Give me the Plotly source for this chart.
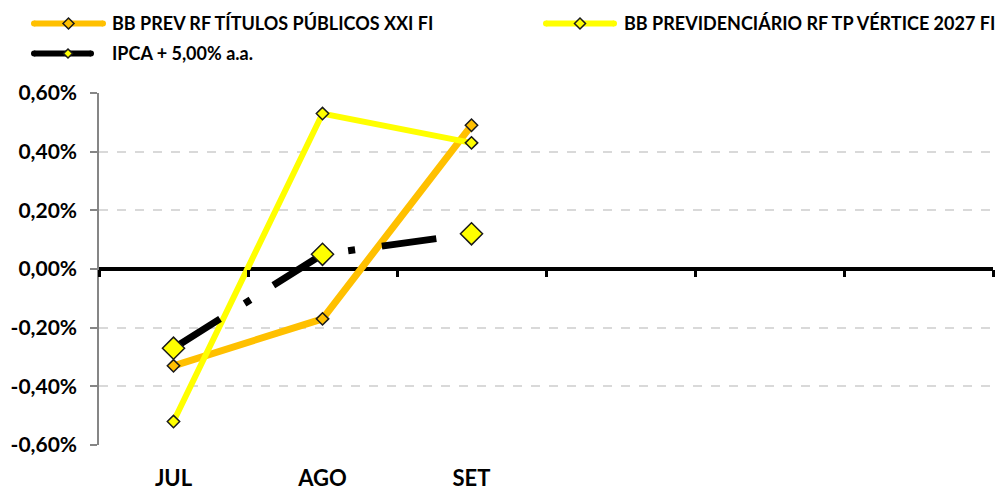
import plotly.graph_objects as go

# ---- data ----
categories = ["JUL", "AGO", "SET", "OUT", "NOV", "DEZ"]
months = ["JUL", "AGO", "SET"]
fund_xxi = [-0.33, -0.17, 0.49]          # BB PREV RF TÍTULOS PÚBLICOS XXI FI
fund_vertice = [-0.52, 0.53, 0.43]       # BB PREVIDENCIÁRIO RF TP VÉRTICE 2027 FI
ipca_meta = [-0.27, 0.05, 0.12]          # IPCA + 5,00% a.a.
y_ticks = [-0.6, -0.4, -0.2, 0.0, 0.2, 0.4, 0.6]
y_ticktext = ["-0,60%", "-0,40%", "-0,20%", "0,00%", "0,20%", "0,40%", "0,60%"]
names = ["BB PREV RF TÍTULOS PÚBLICOS XXI FI",
         "BB PREVIDENCIÁRIO RF TP VÉRTICE 2027 FI",
         "IPCA + 5,00% a.a."]
colors = ["#FFC000", "#FFFF00", "#000000"]

FONT = "Lato"
W, H = 1005, 491
ml, mr, mt, mb = 99, 12, 93, 46
PW, PH = W - ml - mr, H - mt - mb

fig = go.Figure()
fig.add_trace(go.Scatter(
    x=months, y=fund_xxi, name=names[0], mode="lines+markers",
    line=dict(color=colors[0], width=7),
    marker=dict(symbol="diamond", size=9.5, color=colors[0], line=dict(color="#1a1a1a", width=1.5)),
    showlegend=False))
fig.add_trace(go.Scatter(
    x=months, y=fund_vertice, name=names[1], mode="lines+markers",
    line=dict(color=colors[1], width=6),
    marker=dict(symbol="diamond", size=9.5, color=colors[1], line=dict(color="#1a1a1a", width=1.5)),
    showlegend=False))
fig.add_trace(go.Scatter(
    x=months, y=ipca_meta, name=names[2], mode="lines+markers",
    line=dict(color=colors[2], width=7, dash="55px,29px,7px,27px"),
    marker=dict(symbol="diamond", size=17, color="#FFFF00", line=dict(color="#1a1a1a", width=1.5)),
    showlegend=False))
# invisible helper trace so the zero-line tick axis is drawn
fig.add_trace(go.Scatter(x=[None], y=[None], xaxis="x2", showlegend=False, hoverinfo="skip"))


def px_x(px):
    return (px - ml) / PW


def px_y(py):
    return (H - mb - py) / PH


# ---- legend (drawn as keys + text) ----
legend_items = [
    # name, line color, marker fill, line x0, x1, row y, text x, diamond half-size
    (names[0], colors[0], colors[0], 31, 106, 23.5, 110, 5.5),
    (names[1], colors[1], colors[1], 543, 617, 23.5, 622, 5.5),
    (names[2], colors[2], "#FFFF00", 31, 94, 53.5, 110, 4.5),
]
shapes = []
annotations = []
for name, lc, mf, x0, x1, yy, tx, hs in legend_items:
    shapes.append(dict(type="line", xref="paper", yref="paper",
                       x0=px_x(x0 + 3), x1=px_x(x1 - 3), y0=px_y(yy), y1=px_y(yy),
                       line=dict(color=lc, width=6)))
    shapes.append(dict(type="circle", xref="paper", yref="paper",
                       xsizemode="pixel", ysizemode="pixel",
                       xanchor=px_x(x0 + 3), yanchor=px_y(yy),
                       x0=-3, x1=3, y0=-3, y1=3, fillcolor=lc, line=dict(width=0)))
    shapes.append(dict(type="circle", xref="paper", yref="paper",
                       xsizemode="pixel", ysizemode="pixel",
                       xanchor=px_x(x1 - 3), yanchor=px_y(yy),
                       x0=-3, x1=3, y0=-3, y1=3, fillcolor=lc, line=dict(width=0)))
    cx = px_x((x0 + x1) / 2 if x1 - x0 > 70 else 68)
    shapes.append(dict(type="path", xref="paper", yref="paper",
                       xsizemode="pixel", ysizemode="pixel",
                       xanchor=cx, yanchor=px_y(yy),
                       path=f"M{-hs},0 L0,{hs} L{hs},0 L0,{-hs} Z",
                       fillcolor=mf, line=dict(color="#1a1a1a", width=1.5)))
    annotations.append(dict(text=name, xref="paper", yref="paper",
                            x=px_x(tx), y=px_y(yy), xanchor="left", yanchor="middle",
                            showarrow=False,
                            font=dict(family=FONT, size=18, color="#000000", weight="bold")))

fig.update_layout(
    width=W, height=H,
    margin=dict(l=ml, r=mr, t=mt, b=mb, autoexpand=False),
    paper_bgcolor="white", plot_bgcolor="white",
    font=dict(family=FONT, color="#000000"),
    showlegend=False,
    shapes=shapes,
    annotations=annotations,
    xaxis=dict(
        type="category", categoryorder="array", categoryarray=categories,
        range=[-0.5, len(categories) - 0.5],
        tickvals=months, ticktext=months, ticks="", showgrid=False, zeroline=False,
        showline=False, ticklabelstandoff=18, tickangle=0, automargin=False,
        tickfont=dict(family=FONT, size=22, color="#000000", weight="bold"),
    ),
    xaxis2=dict(
        overlaying="x", anchor="free", position=0.5, type="linear",
        range=[-0.5, len(categories) - 0.5],
        tickvals=[i - 0.5 for i in range(len(categories) + 1)],
        ticks="outside", ticklen=7, tickwidth=3, tickcolor="#000000",
        showticklabels=False, showgrid=False, zeroline=False, showline=False,
    ),
    yaxis=dict(
        range=[-0.6, 0.6], tickvals=y_ticks, ticktext=y_ticktext, automargin=False,
        showgrid=True, gridcolor="#D9D9D9", gridwidth=1.5, griddash="dash",
        zeroline=True, zerolinecolor="#000000", zerolinewidth=4,
        showline=True, linecolor="#868686", linewidth=1.5,
        ticks="outside", ticklen=7, tickcolor="#868686", tickwidth=1.5,
        ticklabelstandoff=9,
        tickfont=dict(family=FONT, size=21, color="#000000", weight="bold"),
    ),
)

fig.write_html("out.html", config={"displayModeBar": False},
               post_script="document.body.style.margin='0';")
